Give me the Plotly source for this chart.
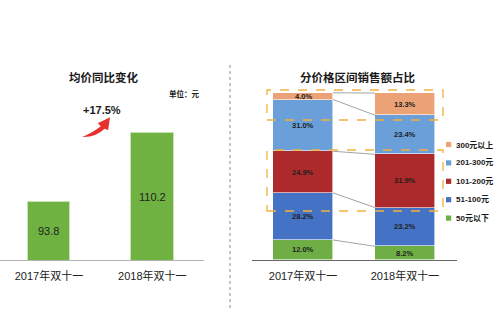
import plotly.graph_objects as go
import numpy as np

W, H = 500, 325
FONT = "Liberation Sans, Arial, Noto Sans CJK SC, sans-serif"

# Average price per order (yuan)
years = ["2017年双十一", "2018年双十一"]
avg_price = [93.8, 110.2]
growth_label = "+17.5%"
price_axis_min = 80

# Sales share by price band (%), bottom to top
bands = ["50元以下", "51-100元", "101-200元", "201-300元", "300元以上"]
share_2017 = [12.0, 28.2, 24.9, 31.0, 4.0]
share_2018 = [8.2, 23.2, 31.9, 23.4, 13.3]
band_colors = ["#6fae45", "#4472c4", "#ad2a2c", "#6a9fd9", "#eba276"]

fig = go.Figure()


def px(x, y):
    """pixel position -> paper coordinates"""
    return x / W, 1 - y / H


annotations = []
shapes = []

# ---- left: average price bars ----
fig.add_trace(go.Bar(
    x=[0, 1], y=avg_price, width=0.41,
    marker=dict(color="#6fb241", line=dict(color="#c9e4b4", width=1)),
    showlegend=False, xaxis="x", yaxis="y", hoverinfo="skip",
))
# value labels centred on the visible part of each bar
for j, v in enumerate(avg_price):
    annotations.append(dict(
        x=j, y=(price_axis_min + v) / 2, xref="x", yref="y", text=f"{v:.1f}",
        showarrow=False, xanchor="center", yanchor="middle",
        font=dict(size=11, color="#222222", family=FONT),
    ))

# ---- right: stacked share bars ----
bar_w = 0.59
shares = np.array([share_2017, share_2018])
for i, band in enumerate(bands):
    fig.add_trace(go.Bar(
        x=[0, 1], y=shares[:, i], width=bar_w,
        marker=dict(color=band_colors[i], line=dict(color="#ffffff", width=0.6)),
        name=band, showlegend=False, xaxis="x2", yaxis="y2", hoverinfo="skip",
    ))

# segment labels and connector lines between the two stacks
tops = np.cumsum(shares, axis=1)
bottoms = tops - shares
for j in range(2):
    for i in range(len(bands)):
        annotations.append(dict(
            x=j, y=(tops[j, i] + bottoms[j, i]) / 2, xref="x2", yref="y2",
            text=f"<b>{shares[j, i]:.1f}%</b>", showarrow=False,
            xanchor="center", yanchor="middle",
            font=dict(size=7.5, color="#1e1e1e", family=FONT),
        ))
for i in range(len(bands)):
    fig.add_trace(go.Scatter(
        x=[bar_w / 2, 1 - bar_w / 2], y=[tops[0, i], tops[1, i]],
        mode="lines", line=dict(color="#8c8c8c", width=0.8),
        showlegend=False, xaxis="x2", yaxis="y2", hoverinfo="skip",
    ))

# legend: small colour squares with bold labels, top entry = highest band
legend_top, legend_step = 144.5, 18.4
for k, i in enumerate(reversed(range(len(bands)))):
    cy = legend_top + k * legend_step
    a0, b0 = px(446, cy - 2.6)
    a1, b1 = px(451.2, cy + 2.6)
    shapes.append(dict(type="rect", xref="paper", yref="paper", x0=a0, y0=b1, x1=a1, y1=b0,
                       line=dict(width=0), fillcolor=band_colors[i]))
    tx, ty = px(453.5, cy)
    annotations.append(dict(x=tx, y=ty, xref="paper", yref="paper", text=f"<b>{bands[i]}</b>",
                            xanchor="left", yanchor="middle", showarrow=False,
                            font=dict(size=8, color="#1a1a1a", family=FONT)))


def note(x, y, text, size, anchor="center"):
    ax, ay = px(x, y)
    annotations.append(dict(x=ax, y=ay, xref="paper", yref="paper", text=text,
                            xanchor=anchor, yanchor="middle", showarrow=False,
                            font=dict(size=size, color="#1a1a1a", family=FONT)))


# titles and notes
note(103, 77, "<b>均价同比变化</b>", 11.5)
note(357, 77, "<b>分价格区间销售额占比</b>", 11.5)
note(202, 94, "<b>单位：元</b>", 7.5, anchor="right")
note(102, 110, f"<b>{growth_label}</b>", 11)


def path(points_cmd):
    out = []
    for cmd, pts in points_cmd:
        coords = " ".join(f"{px(x, y)[0]:.4f},{px(x, y)[1]:.4f}" for x, y in pts)
        out.append(f"{cmd}{coords}")
    return " ".join(out) + " Z"


# red swoosh arrow (one command per point)
shapes.append(dict(
    type="path", xref="paper", yref="paper", line=dict(width=0), fillcolor="#e8312c",
    path=path([
        ("M", [(82, 137)]),
        ("Q", [(96, 137.5), (104.5, 128.8)]),
        ("L", [(108.2, 130)]),
        ("L", [(110, 117.3)]),
        ("L", [(97.8, 123.2)]),
        ("L", [(100.8, 126.2)]),
        ("Q", [(93, 132.5), (82, 137)]),
    ]),
))
# dashed separator between the two panels
x0, y0 = px(230, 65)
x1, y1 = px(230, 308)
shapes.append(dict(type="line", xref="paper", yref="paper", x0=x0, y0=y0, x1=x1, y1=y1,
                   line=dict(color="#a6a6a6", width=1.3, dash="3px,3px")))
# orange dashed highlight boxes
for (bx0, by0, bx1, by1) in [(267, 90, 443, 120), (267, 150, 443, 211)]:
    a0, b0 = px(bx0, by0)
    a1, b1 = px(bx1, by1)
    shapes.append(dict(type="rect", xref="paper", yref="paper", x0=a0, y0=b1, x1=a1, y1=b0,
                       line=dict(color="#f2b13c", width=1.3, dash="dash")))

dom_y = [1 - 260 / H, 1 - 60 / H]
scale_left = 127 / (avg_price[1] - price_axis_min)

fig.update_layout(
    width=W, height=H, margin=dict(l=0, r=0, t=0, b=0, autoexpand=False),
    paper_bgcolor="white", plot_bgcolor="white",
    barmode="stack", bargap=0, showlegend=False,
    font=dict(family=FONT, color="#222222"),
    xaxis=dict(domain=[0, 204 / W], range=[-0.474, 1.5], tickvals=[0, 1], ticktext=years,
               showline=True, linecolor="#b3b3b3", linewidth=1, ticks="", showgrid=False,
               zeroline=False, tickfont=dict(size=11, color="#222222"), automargin=False,
               ticklabelstandoff=6),
    yaxis=dict(domain=dom_y, range=[price_axis_min, price_axis_min + 200 / scale_left],
               visible=False),
    xaxis2=dict(domain=[252 / W, 457 / W], range=[-0.5, 1.51], tickvals=[0, 1], ticktext=years,
                showline=True, linecolor="#666666", linewidth=1, ticks="", showgrid=False,
                zeroline=False, tickfont=dict(size=11, color="#222222"), automargin=False,
                ticklabelstandoff=6),
    yaxis2=dict(domain=dom_y, range=[0, 200 / 1.67], visible=False),
    annotations=annotations, shapes=shapes,
)

fig.write_html("out.html")
